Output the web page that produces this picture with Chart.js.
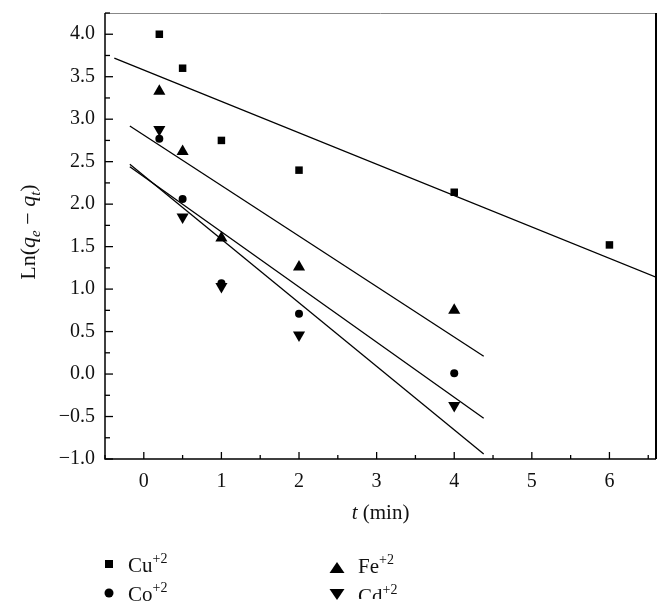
<!DOCTYPE html>
<html>
<head>
<meta charset="utf-8">
<script src="https://cdn.jsdelivr.net/npm/chart.js@4.4.0/dist/chart.umd.min.js"></script>
<style>
  html, body { margin: 0; padding: 0; background: #fff; overflow: hidden; }
  canvas { display: block; }
</style>
</head>
<body>
<canvas id="chart" width="671" height="616"></canvas>
<script>
// sampling times (min)
const times = [0.2, 0.5, 1, 2, 4];
const cuTimes = [0.2, 0.5, 1, 2, 4, 6];

// Ln(qe - qt) per metal ion
const cuValues = [4.0, 3.6, 2.75, 2.4, 2.14, 1.52];
const feValues = [3.33, 2.62, 1.6, 1.26, 0.75];
const coValues = [2.77, 2.06, 1.07, 0.71, 0.01];
const cdValues = [2.88, 1.85, 1.03, 0.46, -0.37];

// fitted lines, end points
const cuFitX = [-0.38, 6.6], cuFitY = [3.72, 1.14];
const feFitX = [-0.18, 4.38], feFitY = [2.92, 0.21];
const coFitX = [-0.18, 4.38], coFitY = [2.44, -0.52];
const cdFitX = [-0.18, 4.38], cdFitY = [2.47, -0.94];

const xTicks = [0, 1, 2, 3, 4, 5, 6];
const yTicks = [-1.0, -0.5, 0, 0.5, 1.0, 1.5, 2.0, 2.5, 3.0, 3.5, 4.0];

const FONT = "'Liberation Serif', 'Times New Roman', serif";

const pts = (xs, ys) => xs.map((x, i) => ({ x: x, y: ys[i] }));

const markerSet = (label, xs, ys, style, radius, rotation) => ({
  label: label,
  data: pts(xs, ys),
  showLine: false,
  pointStyle: style,
  pointRadius: radius,
  pointRotation: rotation || 0,
  pointBackgroundColor: '#000',
  pointBorderColor: '#000',
  pointBorderWidth: 0
});

const fitSet = (xs, ys) => ({
  data: pts(xs, ys),
  showLine: true,
  borderColor: '#000',
  borderWidth: 1.3,
  pointRadius: 0,
  fill: false
});

// frame, inward ticks, axis titles and legend
const decorations = {
  id: 'decorations',
  afterDraw(chart) {
    const ctx = chart.ctx;
    const { left, right, top, bottom } = chart.chartArea;
    const xs = chart.scales.x, ys = chart.scales.y;
    ctx.save();

    // frame
    ctx.strokeStyle = '#888';
    ctx.lineWidth = 1;
    ctx.beginPath(); ctx.moveTo(left, top + 0.5); ctx.lineTo(right, top + 0.5); ctx.stroke();
    ctx.strokeStyle = '#000';
    ctx.lineWidth = 2;
    ctx.beginPath(); ctx.moveTo(right, top); ctx.lineTo(right, bottom); ctx.stroke();
    ctx.lineWidth = 1.5;
    ctx.beginPath(); ctx.moveTo(left, top); ctx.lineTo(left, bottom); ctx.lineTo(right, bottom); ctx.stroke();

    // x ticks (inward)
    ctx.lineWidth = 1.3;
    for (let v = -0.5; v <= 6.6; v += 0.5) {
      const px = xs.getPixelForValue(v);
      const len = Number.isInteger(v) ? 7 : 4;
      ctx.beginPath(); ctx.moveTo(px, bottom); ctx.lineTo(px, bottom - len); ctx.stroke();
    }
    // y ticks (inward)
    for (let v = -1; v <= 4.25; v += 0.25) {
      const py = ys.getPixelForValue(v);
      const len = Math.abs(v * 2 - Math.round(v * 2)) < 1e-6 ? 8 : 5;
      ctx.beginPath(); ctx.moveTo(left, py); ctx.lineTo(left + len, py); ctx.stroke();
    }

    ctx.fillStyle = '#111';
    ctx.textBaseline = 'alphabetic';
    ctx.textAlign = 'left';

    // mixed-style text runner
    const runs = (parts, x, y) => {
      let cx = x;
      parts.forEach(p => {
        ctx.font = p.f;
        ctx.fillText(p.t, cx, y + (p.dy || 0));
        cx += ctx.measureText(p.t).width;
      });
    };
    const width = parts => parts.reduce((w, p) => { ctx.font = p.f; return w + ctx.measureText(p.t).width; }, 0);

    // x title
    const xTitle = [
      { t: 't', f: 'italic 21px ' + FONT },
      { t: ' (min)', f: '21px ' + FONT }
    ];
    runs(xTitle, (left + right) / 2 - width(xTitle) / 2, 519);

    // y title
    const yTitle = [
      { t: 'Ln(', f: '22px ' + FONT },
      { t: 'q', f: 'italic 22px ' + FONT },
      { t: 'e', f: 'italic 15px ' + FONT, dy: 5 },
      { t: ' \u2212 ', f: '22px ' + FONT },
      { t: 'q', f: 'italic 22px ' + FONT },
      { t: 't', f: 'italic 15px ' + FONT, dy: 5 },
      { t: ')', f: '22px ' + FONT }
    ];
    ctx.save();
    ctx.translate(35, 232);
    ctx.rotate(-Math.PI / 2);
    runs(yTitle, -width(yTitle) / 2, 0);
    ctx.restore();

    // legend
    const legendItems = [
      { name: 'Cu', shape: 'square', mx: 109, my: 564, tx: 128, ty: 572 },
      { name: 'Co', shape: 'circle', mx: 109, my: 593, tx: 128, ty: 601 },
      { name: 'Fe', shape: 'up', mx: 337, my: 568, tx: 358, ty: 573 },
      { name: 'Cd', shape: 'down', mx: 337, my: 594, tx: 358, ty: 603, clip: 599 }
    ];
    legendItems.forEach(it => {
      ctx.fillStyle = '#000';
      ctx.beginPath();
      if (it.shape === 'square') {
        ctx.rect(it.mx - 4, it.my - 4, 8, 8);
      } else if (it.shape === 'circle') {
        ctx.arc(it.mx, it.my, 4.5, 0, Math.PI * 2);
      } else if (it.shape === 'up') {
        ctx.moveTo(it.mx, it.my - 6); ctx.lineTo(it.mx + 7.5, it.my + 5); ctx.lineTo(it.mx - 7.5, it.my + 5);
      } else {
        ctx.moveTo(it.mx, it.my + 6); ctx.lineTo(it.mx + 7.5, it.my - 5); ctx.lineTo(it.mx - 7.5, it.my - 5);
      }
      ctx.closePath();
      ctx.fill();
      ctx.save();
      if (it.clip) { ctx.beginPath(); ctx.rect(0, 0, 671, it.clip); ctx.clip(); }
      ctx.fillStyle = '#111';
      runs([
        { t: it.name, f: '21px ' + FONT },
        { t: '+2', f: '14px ' + FONT, dy: -9 }
      ], it.tx, it.ty);
      ctx.restore();
    });

    ctx.restore();
  }
};

new Chart(document.getElementById('chart').getContext('2d'), {
  type: 'scatter',
  data: {
    datasets: [
      markerSet('Cu+2', cuTimes, cuValues, 'rect', 5.3),
      markerSet('Co+2', times, coValues, 'circle', 4),
      markerSet('Fe+2', times, feValues, 'triangle', 7),
      markerSet('Cd+2', times, cdValues, 'triangle', 7, 180),
      fitSet(cuFitX, cuFitY),
      fitSet(feFitX, feFitY),
      fitSet(coFitX, coFitY),
      fitSet(cdFitX, cdFitY)
    ]
  },
  options: {
    responsive: false,
    animation: false,
    events: [],
    layout: { padding: { left: 0, right: 15, top: 13, bottom: 97 } },
    plugins: {
      legend: { display: false },
      tooltip: { enabled: false }
    },
    scales: {
      x: {
        type: 'linear',
        min: -0.5,
        max: 6.6,
        grid: { display: false, drawTicks: false },
        border: { display: false },
        afterBuildTicks: s => { s.ticks = xTicks.map(v => ({ value: v })); },
        afterFit: s => { s.height = 60; s.paddingLeft = 0; s.paddingRight = 0; },
        ticks: {
          font: { family: FONT, size: 20 },
          color: '#111',
          padding: 11,
          maxRotation: 0,
          autoSkip: false,
          callback: v => String(v)
        }
      },
      y: {
        type: 'linear',
        min: -1,
        max: 4.25,
        grid: { display: false, drawTicks: false },
        border: { display: false },
        afterBuildTicks: s => { s.ticks = yTicks.map(v => ({ value: v })); },
        afterFit: s => { s.width = 105; s.paddingTop = 0; s.paddingBottom = 0; },
        ticks: {
          font: { family: FONT, size: 20 },
          color: '#111',
          padding: 10,
          autoSkip: false,
          callback: v => (v < 0 ? '\u2212' : '') + Math.abs(v).toFixed(1)
        }
      }
    }
  },
  plugins: [decorations]
});
</script>
</body>
</html>
